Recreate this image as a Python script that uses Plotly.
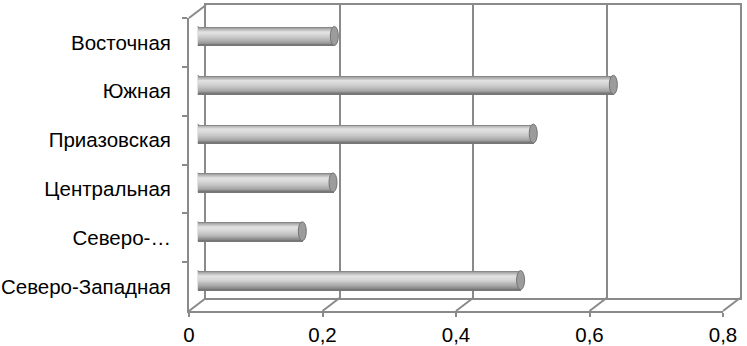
import plotly.graph_objects as go

# ---- data (top to bottom as shown) ----
categories = ["Восточная", "Южная", "Приазовская", "Центральная", "Северо-…", "Северо-Западная"]
values = [0.205, 0.623, 0.503, 0.203, 0.157, 0.484]
x_ticks = [0, 0.2, 0.4, 0.6, 0.8]
x_tick_labels = ["0", "0,2", "0,4", "0,6", "0,8"]

W, H = 747, 346
L, R, T, B = 189, 7, 5, 35
AW, AH = W - L - R, H - T - B
DX, DY = 17, 13          # depth offset of back wall (px)
FW, FH = AW - DX, AH - DY  # front frame size
XMAX = 0.8

line_col = "#8a8a8a"
font = dict(family="Liberation Sans, Arial, sans-serif", size=20.5, color="#000000")

fig = go.Figure()

# front axes (labels, ticks) - invisible carrier trace
fig.add_trace(go.Scatter(x=[0] * len(categories), y=categories, mode="markers",
                         marker=dict(opacity=0), hoverinfo="skip", showlegend=False,
                         xaxis="x", yaxis="y"))
# back wall carrier trace
fig.add_trace(go.Scatter(x=[0], y=[0], mode="markers", marker=dict(opacity=0),
                         hoverinfo="skip", showlegend=False, xaxis="x2", yaxis="y2"))


# cylinder shading profile (style): position 0 = top, 1 = bottom
def shade(p):
    stops = [(0.0, 120), (0.08, 170), (0.25, 226), (0.4, 218), (0.6, 196),
             (0.8, 165), (0.93, 135), (1.0, 110)]
    for (p0, c0), (p1, c1) in zip(stops, stops[1:]):
        if p0 <= p <= p1:
            g = round(c0 + (c1 - c0) * (p - p0) / (p1 - p0))
            return f"rgb({g},{g},{g})"
    return "rgb(110,110,110)"


bar_w = 0.39
nb = 20
bw = bar_w / nb
idx = list(range(len(categories)))
for k in range(nb):
    # each band extends to the bottom edge; later bands overwrite lower part
    fig.add_trace(go.Bar(x=values, y=idx, orientation="h", width=bar_w - k * bw,
                         offset=-bar_w / 2 + k * bw,
                         marker=dict(color=shade((k + 0.5) / nb), line=dict(width=0)),
                         hoverinfo="skip", showlegend=False, xaxis="x3", yaxis="y3"))

shapes = []
cap = 4.0 * XMAX / FW
for i, v in zip(idx, values):
    # rear (left) cap
    shapes.append(dict(type="circle", xref="x3", yref="y3", x0=-cap, x1=cap,
                       y0=i - bar_w / 2, y1=i + bar_w / 2, layer="below",
                       fillcolor="#c8c8c8", line=dict(color="#a0a0a0", width=1)))
    # front (right) cap
    shapes.append(dict(type="circle", xref="x3", yref="y3", x0=v - cap, x1=v + cap,
                       y0=i - bar_w / 2, y1=i + bar_w / 2, layer="above",
                       fillcolor="#9c9c9c", line=dict(color="#747474", width=1)))

# floor diagonals and top-left diagonal (paper coordinates from tick values)
fdom = FW / AW
for t in x_ticks:
    px = t / XMAX * fdom
    shapes.append(dict(type="line", xref="paper", yref="paper",
                       x0=px, y0=0, x1=px + DX / AW, y1=DY / AH,
                       line=dict(color=line_col, width=2)))
shapes.append(dict(type="line", xref="paper", yref="paper",
                   x0=0, y0=FH / AH, x1=DX / AW, y1=1,
                   line=dict(color=line_col, width=2)))

fig.update_layout(
    width=W, height=H,
    margin=dict(l=L, r=R, t=T, b=B, autoexpand=False),
    paper_bgcolor="white", plot_bgcolor="rgba(0,0,0,0)",
    barmode="overlay", bargap=0,
    font=font, showlegend=False,
    shapes=shapes,
    xaxis=dict(domain=[0, FW / AW], range=[0, XMAX], anchor="y", automargin=False,
               tickvals=x_ticks, ticktext=x_tick_labels, ticks="outside", ticklen=4,
               tickcolor=line_col, tickwidth=2, showline=True, linecolor=line_col,
               linewidth=2, showgrid=False, zeroline=False, tickfont=font),
    yaxis=dict(domain=[0, FH / AH], type="category", categoryorder="array",
               categoryarray=categories, range=[len(categories) - 0.5, -0.5],
               anchor="x", automargin=False, tickson="boundaries", ticks="outside", ticklen=5,
               tickcolor=line_col, tickwidth=2, showline=True, linecolor=line_col,
               linewidth=2, showgrid=False, zeroline=False, tickfont=font,
               ticklabelstandoff=12),
    xaxis2=dict(domain=[DX / AW, 1], range=[0, XMAX], anchor="y2", automargin=False,
                tickvals=x_ticks, showticklabels=False, ticks="",
                showgrid=True, gridcolor=line_col, gridwidth=2,
                showline=True, mirror=True, linecolor=line_col, linewidth=2,
                zeroline=False),
    yaxis2=dict(domain=[DY / AH, 1], range=[0, 1], anchor="x2", automargin=False,
                showticklabels=False, ticks="", showgrid=False,
                showline=True, mirror=True, linecolor=line_col, linewidth=2,
                zeroline=False),
    xaxis3=dict(domain=[DX / 2 / AW, (FW + DX / 2) / AW], range=[0, XMAX], anchor="y3",
                visible=False, automargin=False),
    yaxis3=dict(domain=[DY / 2 / AH, (FH + DY / 2) / AH],
                range=[len(categories) - 0.5, -0.5], anchor="x3", visible=False,
                automargin=False),
)

fig.write_html("out.html", config={"displayModeBar": False},
               post_script="document.body.style.margin='0';")
